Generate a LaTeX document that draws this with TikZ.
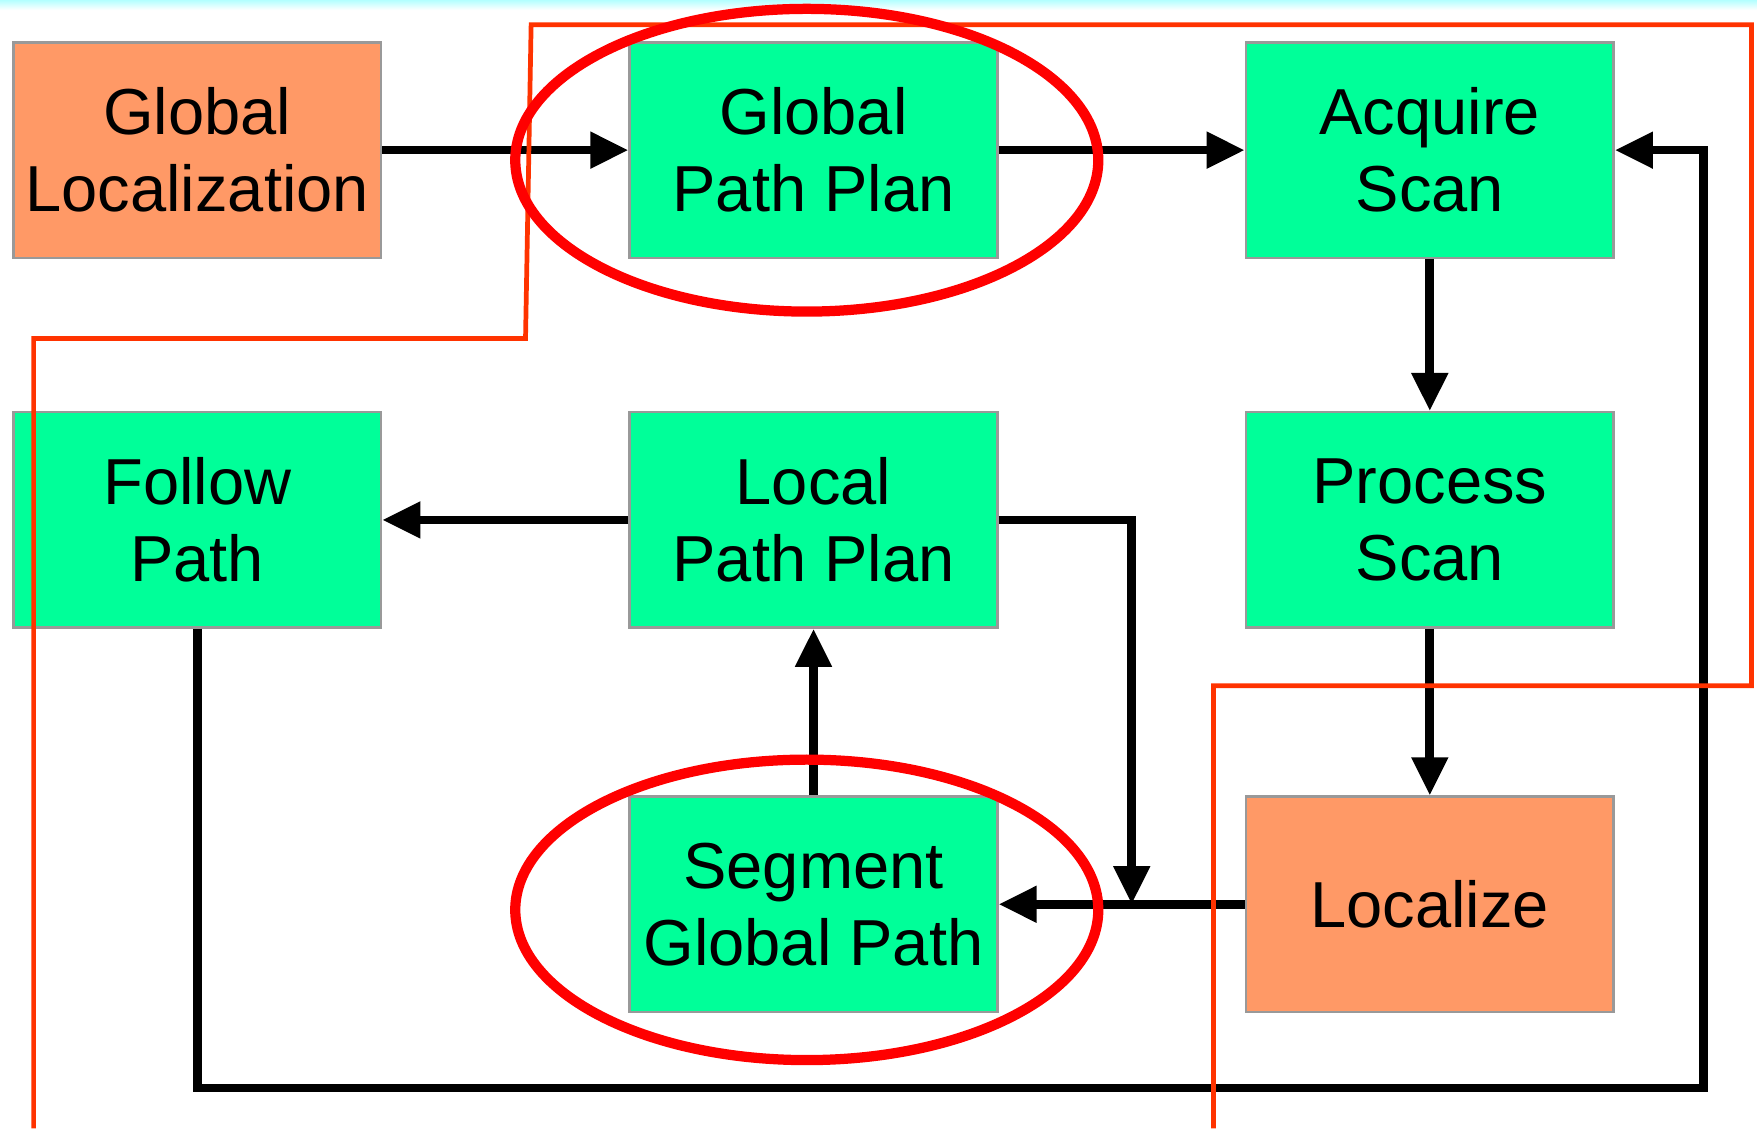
\documentclass[tikz,border=0pt]{standalone}
\usepackage{fontspec}
\setmainfont{Liberation Sans}
\usetikzlibrary{arrows.meta,positioning}
\definecolor{boxgreen}{RGB}{0,255,153}
\definecolor{boxorange}{RGB}{255,153,102}
\definecolor{zoneline}{RGB}{255,51,0}
\tikzset{
  block/.style={draw=gray!80, line width=0.6pt, fill=boxgreen, minimum width=3.28cm,
    minimum height=1.92cm, inner sep=0pt, align=center,
    font=\fontsize{16.5}{19.5}\selectfont},
  estbox/.style={block, fill=boxorange},
  flow/.style={-{Triangle[length=3.4mm,width=3.1mm]}, line width=2.2pt}
}

\begin{document}
\begin{tikzpicture}[x=0.01cm,y=-0.01cm]
            \useasboundingbox (0,0) rectangle (1568,1007);
            \shade[top color=cyan!30, bottom color=white] (0,0) rectangle (1568,9);
            \def\upperoval{(720,143) ellipse (2.6cm and 1.35cm)}
            \def\loweroval{(720,812) ellipse (2.6cm and 1.34cm)}
            % blocks
            \node[estbox] (gloc) at (176,134) {Global\\Localization};
            \node[block] (gplan) at (726,134) {Global\\Path Plan};
            \node[block] (acq) at (1276,134) {Acquire\\Scan};
            \node[block] (follow) at (176,464) {Follow\\Path};
            \node[block] (lplan) at (726,464) {Local\\Path Plan};
            \node[block] (proc) at (1276,464) {Process\\Scan};
            \node[block] (seg) at (726,807) {Segment\\Global Path};
            \node[estbox] (localize) at (1276,807) {Localize};
            \coordinate (jn) at (1010,807);
            \coordinate (lp) at (1520,971);
            % connectors
            \draw[flow] (gloc) -- (gplan);
            \draw[flow] (gplan) -- (acq);
            \draw[flow] (acq) -- (proc);
            \draw[flow] (proc) -- (localize);
            \draw[flow] (localize) -- (seg);
            \draw[flow] (lplan.east) -| (jn);
            \draw[flow] (seg) -- (lplan);
            \draw[flow] (lplan) -- (follow);
            \draw[flow] (follow.south) |- (lp) |- (acq.east);
            % marks
            \draw[zoneline, line width=1.2pt] (30,1007) -- (30,302) -- (469,302) -- (474,22)
                -- (1563,22) -- (1563,612) -- (1083,612) -- (1083,1007);
            \draw[red, line width=2.6pt] \upperoval \loweroval;
        \end{tikzpicture}
\end{document}
